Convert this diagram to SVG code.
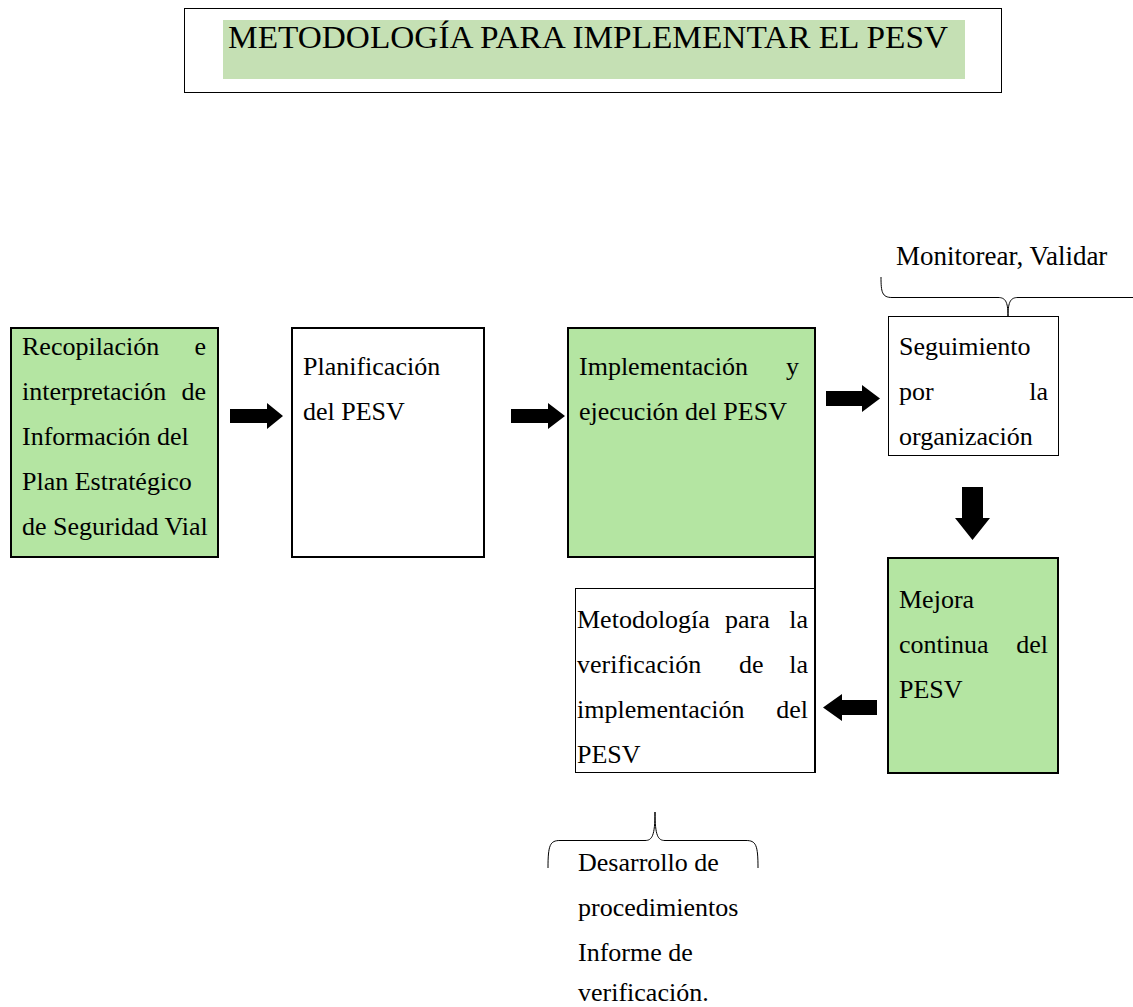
<svg xmlns="http://www.w3.org/2000/svg" width="1133" height="1007" viewBox="0 0 1133 1007">
<style>
text{font-family:"Liberation Serif","Times New Roman",serif;font-size:26px;fill:#000}
.thick{stroke:#000;stroke-width:2}
.thin{stroke:#000;stroke-width:1}
.g{fill:#b4e5a2}
.w{fill:#fff}
.arrow{fill:#000}
.brace{fill:none;stroke:#000;stroke-width:1}
.end{text-anchor:end}
</style>
<rect width="1133" height="1007" fill="#fff"/>
<g id="title">
<rect x="184.5" y="8.5" width="817" height="84" fill="#fff" class="thin"/>
<rect x="223" y="20" width="742" height="59" fill="#c5e0b4"/>
<text x="228" y="48" style="font-size:32px" textLength="720" lengthAdjust="spacingAndGlyphs">METODOLOGÍA PARA IMPLEMENTAR EL PESV</text>
</g>
<g id="n1">
<rect x="11" y="328" width="207" height="229" class="g thick"/>
<text x="22" y="355">Recopilación</text><text x="206" y="355" class="end">e</text>
<text x="22" y="400">interpretación</text><text x="206" y="400" class="end">de</text>
<text x="22" y="445">Información del</text>
<text x="22" y="490">Plan Estratégico</text>
<text x="22" y="535">de Seguridad Vial</text>
</g>
<g id="n2">
<rect x="292" y="328" width="192" height="229" class="w thick"/>
<text x="303" y="375">Planificación</text>
<text x="303" y="420">del PESV</text>
</g>
<g id="n3">
<rect x="568" y="328" width="247" height="229" class="g thick"/>
<text x="579" y="375">Implementación</text><text x="799" y="375" class="end">y</text>
<text x="579" y="420">ejecución del PESV</text>
</g>
<g id="n4">
<rect x="888.5" y="316.5" width="170" height="139" class="w thin"/>
<text x="899" y="355">Seguimiento</text>
<text x="899" y="400">por</text><text x="1048" y="400" class="end">la</text>
<text x="899" y="445">organización</text>
</g>
<g id="n5">
<rect x="888" y="558" width="170" height="215" class="g thick"/>
<text x="899" y="608">Mejora</text>
<text x="899" y="653">continua</text><text x="1048" y="653" class="end">del</text>
<text x="899" y="698">PESV</text>
</g>
<g id="n6">
<rect x="575.5" y="588.5" width="239" height="184" class="w thin"/>
<line x1="815" y1="557" x2="815" y2="773" class="thick"/>
<text x="577" y="628">Metodología</text><text x="725" y="628">para</text><text x="808" y="628" class="end">la</text>
<text x="577" y="673">verificación</text><text x="739" y="673">de</text><text x="808" y="673" class="end">la</text>
<text x="577" y="718">implementación</text><text x="808" y="718" class="end">del</text>
<text x="577" y="763">PESV</text>
</g>
<g id="label-top">
<text x="896" y="265" style="font-size:27px">Monitorear, Validar</text>
</g>
<g id="label-bottom">
<text x="578" y="871">Desarrollo de</text>
<text x="578" y="916">procedimientos</text>
<text x="578" y="961">Informe de</text>
<text x="578" y="1001">verificación.</text>
</g>
<g id="connectors">
<polygon class="arrow" points="230,409 267,409 267,403 283,416 267,429 267,423 230,423"/>
<polygon class="arrow" points="511,409 548,409 548,403 565,416 548,429 548,423 511,423"/>
<polygon class="arrow" points="826,391 862,391 862,385 880,398.5 862,412 862,406 826,406"/>
<polygon class="arrow" points="962,487 983,487 983,518 990,518 972.5,540 955,518 962,518"/>
<polygon class="arrow" points="877,700 842,700 842,694 823,707.5 842,721 842,715 877,715"/>
<path class="brace" d="M881,277 C881,292 882,297.5 892,297.5 L998,297.5 C1005,297.5 1008,301 1008,316 C1008,301 1011,297.5 1018,297.5 L1140,297.5"/>
<path class="brace" d="M548,868 C548,845 550,840.5 560,840.5 L645,840.5 C652,840.5 655,836 655,812 C655,836 658,840.5 665,840.5 L746,840.5 C756,840.5 758,845 758,868"/>
</g>
</svg>
